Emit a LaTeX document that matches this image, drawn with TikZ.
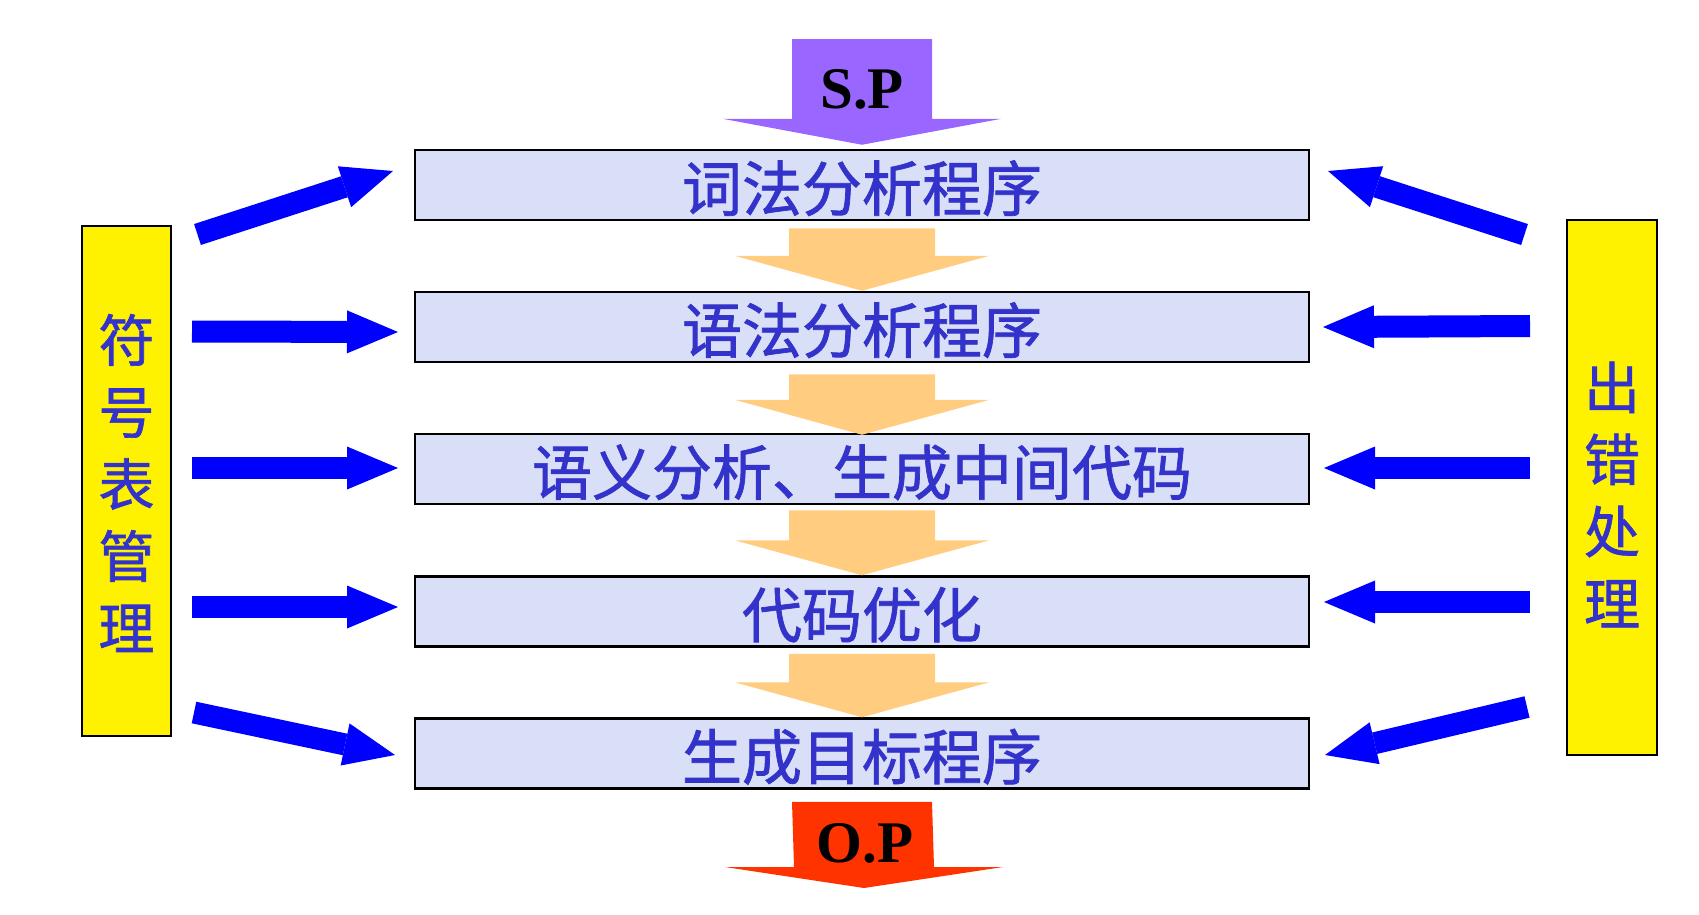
\documentclass[tikz,border=0pt]{standalone}
\usepackage{fontspec}
\setmainfont{Liberation Serif}
\newfontfamily\cjk{Noto Sans CJK SC}[FakeBold=1.2]
\usetikzlibrary{arrows.meta,calc}
\definecolor{boxfill}{RGB}{216,223,246}
\definecolor{txtblue}{RGB}{51,51,204}
\definecolor{orangeA}{RGB}{255,204,128}
\definecolor{purpA}{RGB}{153,102,255}
\definecolor{redA}{RGB}{255,51,0}
% vertical block arrow: #1 style, #2 start, #3 tip, #4 half shaft, #5 half head, #6 head length
\newcommand{\vblockarrow}[6]{%
  \fill[#1] ($(#2)+(-#4,0)$) -- ($(#2)+(#4,0)$) -- ($(#3)+(#4,-#6)$) -- ($(#3)+(#5,-#6)$)
     -- (#3) -- ($(#3)+(-#5,-#6)$) -- ($(#3)+(-#4,-#6)$) -- cycle;}
\begin{document}
\begin{tikzpicture}[x=1pt,y=-1pt,
  stage/.style={draw=black, line width=2.5pt, fill=boxfill, minimum width=894pt, minimum height=70pt, inner sep=0pt, text height=58pt, text depth=6pt, font=\cjk\fontsize{60}{60}\selectfont, text=txtblue},
  sidebox/.style={draw=black, line width=2.5pt, fill=yellow, inner sep=0pt},
  vtext/.style={align=center, font=\cjk\fontsize{56}{72}\selectfont, text=txtblue, inner sep=0pt},
  barrow/.style={draw=blue, line width=22pt, -{Triangle[length=51pt,width=43pt,line width=0pt]}},
  iolabel/.style={anchor=base, inner sep=0pt, font=\bfseries\fontsize{59}{59}\selectfont, text=black}
]
\useasboundingbox (0,0) rectangle (1699,914);

% stages
\node[stage] (b1) at (862,185) {词法分析程序};
\node[stage] (b2) at (862,327) {语法分析程序};
\node[stage] (b3) at (862,469) {语义分析、生成中间代码};
\node[stage] (b4) at (862,611.5) {代码优化};
\node[stage] (b5) at (862,753.5) {生成目标程序};

% flow arrows between stages
\coordinate (f1a) at ($(b1.south)+(0,7)$);  \coordinate (f1b) at (b2.north);
\coordinate (f2a) at ($(b2.south)+(0,11)$); \coordinate (f2b) at ($(b3.north)+(0,2)$);
\coordinate (f3a) at ($(b3.south)+(0,5)$);  \coordinate (f3b) at (b4.north);
\coordinate (f4a) at ($(b4.south)+(0,6)$);  \coordinate (f4b) at (b5.north);
\foreach \i in {1,...,4} {\vblockarrow{orangeA}{f\i a}{f\i b}{73}{127.5}{35}}

% source program
\coordinate (sp) at (862,39);
\coordinate (spt) at ($(b1.north)+(0,-4)$);
\vblockarrow{purpA}{sp}{spt}{70}{139.5}{26}
\node[iolabel] (splabel) at (862,108) {S.P};

% object program
\coordinate (opa) at ($(b5.south)+(0,12)$);
\coordinate (op) at (864,888);
\vblockarrow{redA}{opa}{op}{70}{139}{21}
\node[iolabel] (oplabel) at (865,862) {O.P};

% side boxes
\node[sidebox, minimum width=89pt, minimum height=510pt] (lbox) at (126.5,481) {};
\node[vtext] (ltxt) at (126.5,483) {符\\号\\表\\管\\理};
\node[sidebox, minimum width=90pt, minimum height=535pt] (rbox) at (1612,487.5) {};
\node[vtext] (rtxt) at (1612,494.5) {出\\错\\处\\理};

% left arrows
\coordinate (l1a) at (197.5,234.5); \coordinate (l1b) at (393,171);
\coordinate (l2a) at (192,331.5);   \coordinate (l2b) at (398,332);
\coordinate (l3a) at (192,468);     \coordinate (l3b) at (398,468);
\coordinate (l4a) at (192,607);     \coordinate (l4b) at (398,607);
\coordinate (l5a) at (194,712.5);   \coordinate (l5b) at (395,755);
\foreach \i in {1,...,5} {\draw[barrow] (l\i a) -- (l\i b);}

% right arrows
\coordinate (r1a) at (1524.5,234.5); \coordinate (r1b) at (1328,171);
\coordinate (r2a) at (1530,326);     \coordinate (r2b) at (1323,327);
\coordinate (r3a) at (1530,468);     \coordinate (r3b) at (1324,468);
\coordinate (r4a) at (1530,602);     \coordinate (r4b) at (1324,602);
\coordinate (r5a) at (1527,707);     \coordinate (r5b) at (1325,755);
\foreach \i in {1,...,5} {\draw[barrow] (r\i a) -- (r\i b);}
\end{tikzpicture}
\end{document}
